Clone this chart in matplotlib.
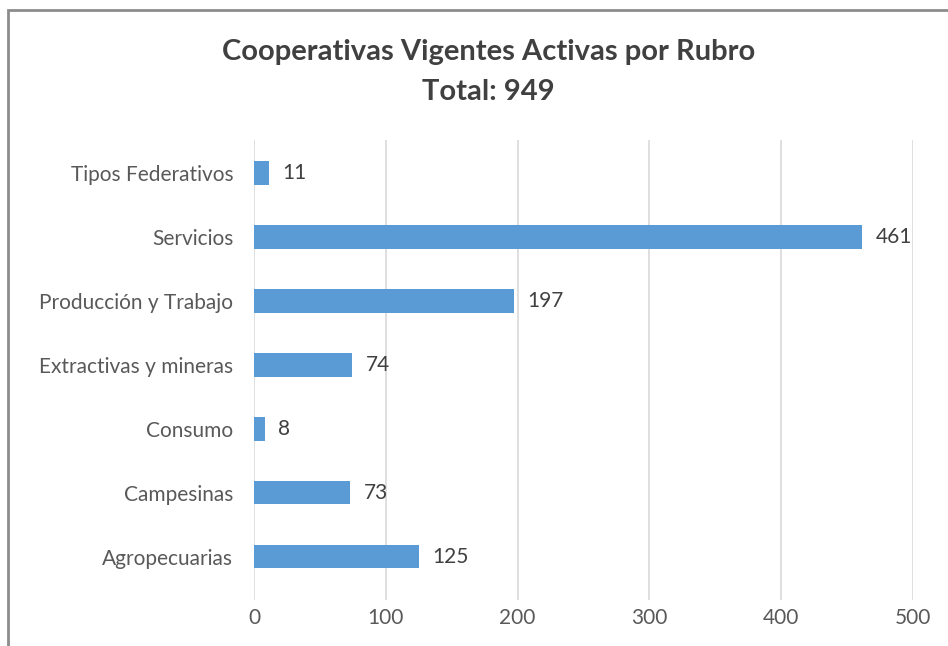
import matplotlib.pyplot as plt
from matplotlib.patches import Rectangle

rubros = ["Agropecuarias", "Campesinas", "Consumo", "Extractivas y mineras",
          "Producción y Trabajo", "Servicios", "Tipos Federativos"]
cantidades = [125, 73, 8, 74, 197, 461, 11]
xticks = [0, 100, 200, 300, 400, 500]

plt.rcParams['font.family'] = ['Lato', 'DejaVu Sans']

fig = plt.figure(figsize=(9.48, 6.46), dpi=100)
ax = fig.add_axes([0.268, 0.071, 0.695, 0.712])

bars = ax.barh(rubros, cantidades, height=0.37, color="#5B9BD5", zorder=3)
for b, v in zip(bars, cantidades):
    ax.annotate(str(v), (b.get_width(), b.get_y() + b.get_height() / 2),
                xytext=(10, 0), textcoords="offset points", va="center",
                ha="left", fontsize=15, color="#404040")

ax.set_xlim(0, 500)
ax.set_ylim(-0.68, 6.51)
ax.set_xticks(xticks)
ax.grid(axis="x", color="#d9d9d9", linewidth=1.2, zorder=0)
for s in ax.spines.values():
    s.set_visible(False)
ax.tick_params(length=0, labelsize=15, colors="#595959")
ax.tick_params(axis="y", pad=15)
ax.tick_params(axis="x", pad=6)

fig.text(0.515, 0.92, "Cooperativas Vigentes Activas por Rubro", ha="center",
         va="center", fontsize=21, fontweight="bold", color="#404040")
fig.text(0.515, 0.857, "Total: 949", ha="center", va="center",
         fontsize=21, fontweight="bold", color="#404040")

fig.patches.append(Rectangle((8 / 948, -0.05), 1.2, 1 - 10 / 646 + 0.05,
                             transform=fig.transFigure, fill=False,
                             edgecolor="#8c8c8c", linewidth=2))

fig.savefig("out.png", dpi=100)
